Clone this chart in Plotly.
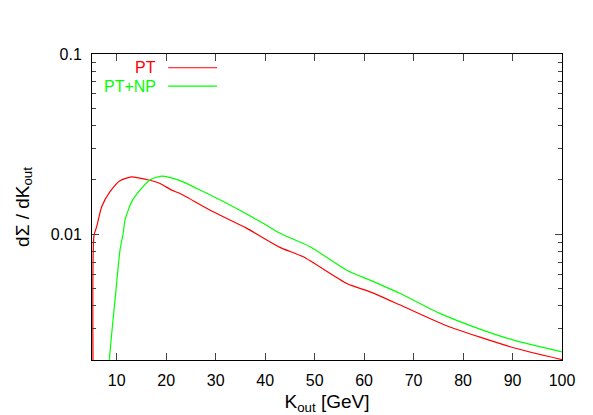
import plotly.graph_objects as go

# PT curve
pt_k = [5.2, 5.4, 5.95, 6.96, 8.64, 10.66, 13.0, 16.0, 18.75, 21.1, 22.8,
        29.5, 36.3, 43.0, 47.7, 56.5, 61.2, 67.3, 76.7, 90.2, 100]
pt_val = [0.002, 0.0098, 0.011, 0.0142, 0.0172, 0.0198, 0.0208, 0.0201, 0.0191,
          0.01755, 0.0168, 0.0133, 0.01076, 0.00844, 0.00748, 0.00532, 0.00478,
          0.00404, 0.0031, 0.00234, 0.00201]

# PT+NP curve
np_k = [8.5, 8.98, 9.65, 10.66, 11.3, 11.67, 13.0, 14.7, 16.7, 19.1, 22.8, 26.1,
        32.9, 39.6, 43.0, 49.1, 56.5, 61.2, 67.3, 75.3, 83.4, 90.2, 100]
np_val = [0.002, 0.0028, 0.0043, 0.00815, 0.0101, 0.01197, 0.0151, 0.01755, 0.02,
          0.021, 0.0198, 0.01796, 0.0145, 0.01148, 0.0101, 0.0085, 0.0063,
          0.00555, 0.00468, 0.00363, 0.00297, 0.00258, 0.00222]

x_ticks = [10, 20, 30, 40, 50, 60, 70, 80, 90, 100]
y_ticks = [0.01, 0.1]
y_minor = [m * 10 ** e for e in (-3, -2) for m in range(2, 10)]

fig = go.Figure()
fig.add_trace(go.Scatter(x=pt_k, y=pt_val, mode="lines", name="PT",
                         line=dict(color="#ff0000", width=1.2, shape="spline", smoothing=0.6)))
fig.add_trace(go.Scatter(x=np_k, y=np_val, mode="lines", name="PT+NP",
                         line=dict(color="#00ff00", width=1.2, shape="spline", smoothing=0.6)))

# gnuplot-style key: text on the left, line sample on the right
key = [("PT", "#ff0000", 0.955), ("PT+NP", "#00ff00", 0.895)]
for label, col, yp in key:
    fig.add_annotation(x=0.140, y=yp, xref="paper", yref="paper", text=label,
                       showarrow=False, xanchor="right", yanchor="middle",
                       font=dict(color=col, size=16))
    fig.add_shape(type="line", xref="paper", yref="paper", x0=0.162, x1=0.266,
                  y0=yp, y1=yp, line=dict(color=col, width=1.2))

# page body adds an 8px offset, so margins are shifted to compensate
fig.update_layout(
    width=593, height=415,
    margin=dict(l=84, r=39, t=46, b=63),
    paper_bgcolor="white", plot_bgcolor="white",
    font=dict(family="Liberation Sans, Arial, sans-serif", size=16, color="black"),
    showlegend=False,
    xaxis=dict(range=[5, 100], tickvals=x_ticks, ticks="inside", ticklen=7,
               showline=True, linecolor="black", linewidth=1, mirror="allticks",
               showgrid=False, zeroline=False, ticklabelstandoff=6, automargin=False,
               title=dict(text="K<sub>out</sub> [GeV]", standoff=6)),
    yaxis=dict(type="log", range=[-2.69897, -1], tickvals=y_ticks,
               ticktext=["0.01", "0.1"], ticks="inside", ticklen=7,
               showline=True, linecolor="black", linewidth=1, mirror="allticks",
               showgrid=False, zeroline=False, ticklabelstandoff=6, automargin=False,
               minor=dict(tickvals=y_minor, ticks="inside", ticklen=4, showgrid=False),
               title=dict(text="dΣ / dK<sub>out</sub>", standoff=16)),
)

fig.write_html("out.html")
